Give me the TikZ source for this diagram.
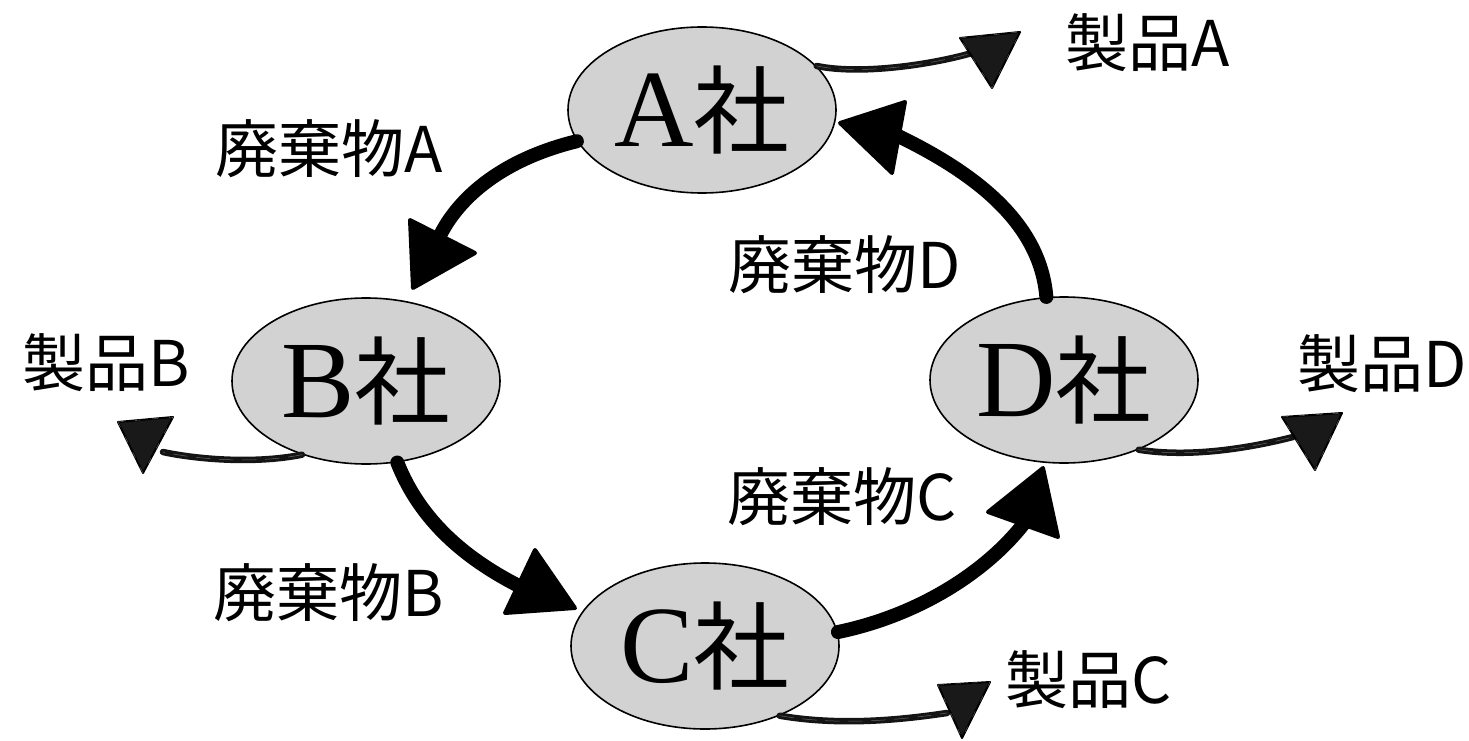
\documentclass[tikz,border=0pt]{standalone}
\usepackage{fontspec}
\newfontfamily\jp{Noto Sans CJK JP}
\newfontfamily\ser{Liberation Serif}
\usetikzlibrary{shapes.geometric}
\begin{document}
\begin{tikzpicture}[x=1pt,y=-1pt,
  firm/.style={ellipse,draw=black,line width=1.6pt,fill=gray!35,minimum width=268pt,minimum height=166pt,inner sep=0pt},
  lbl/.style={anchor=west,inner sep=0pt,font=\jp\fontsize{63}{63}\selectfont},
  flow/.style={line width=14pt,line cap=round},
  head/.style={fill=black,draw=black,line width=4pt,line join=round},
  prod/.style={line width=6.5pt,black!92,line cap=round,postaction={draw,white,line width=0.5pt,dash pattern=on 14pt off 9pt,opacity=.35}},
  phead/.style={fill=black!90,draw=black,line width=2pt,line join=round,postaction={draw,white,line width=0.4pt,dash pattern=on 6pt off 11pt,opacity=.4}}]
\useasboundingbox (0,0) rectangle (1469,741);
\newcommand{\firmtext}[1]{{\fontsize{110}{110}\selectfont\ser #1}{\jp\fontsize{96}{96}\selectfont 社}}
% firms
\node[firm] (A) at (702,110) {\firmtext{A}};
\node[firm] (B) at (366,381) {\firmtext{B}};
\node[firm] (C) at (705,646) {\firmtext{C}};
\node[firm] (D) at (1064,380) {\firmtext{D}};
% labels
\node[lbl] (pA) at (1065,43) {製品A};
\node[lbl] (pB) at (22,363) {製品B};
\node[lbl] (pD) at (1297,364) {製品D};
\node[lbl] (pC) at (1005,680) {製品C};
\node[lbl] (wA) at (215,149) {廃棄物A};
\node[lbl] (wD) at (728,265) {廃棄物D};
\node[lbl] (wC) at (727,497) {廃棄物C};
\node[lbl] (wB) at (213,593) {廃棄物B};
% waste flow end points
\coordinate (eAB) at (437,242);
\coordinate (eBC) at (527,590);
\coordinate (eCD) at (1028,518);
\coordinate (eDA) at (892,133);
\draw[flow] (A.194) .. controls (500,160) and (455,200) .. (eAB);
\draw[flow] (B.291) .. controls (420,520) and (465,560) .. (eBC);
\draw[flow] (C.6) .. controls (920,615) and (990,570) .. (eCD);
\draw[flow] (D.102) .. controls (1040,220) and (970,170) .. (eDA);
\filldraw[head] (410,220) -- (475,253) -- (413,288) -- cycle;
\filldraw[head] (505,613) -- (535,550) -- (575,608) -- cycle;
\filldraw[head] (988,512) -- (1043,468) -- (1058,537) -- cycle;
\filldraw[head] (840,123) -- (905,102) -- (892,173) -- cycle;
% product flow end points
\coordinate (qA) at (972,53);
\coordinate (qB) at (163,452);
\coordinate (qD) at (1293,437);
\coordinate (qC) at (947,713);
\draw[prod] (A.21) .. controls (860,75) and (930,65) .. (qA);
\draw[prod] (B.229) .. controls (250,465) and (190,458) .. (qB);
\draw[prod] (D.317) .. controls (1190,458) and (1250,448) .. (qD);
\draw[prod] (C.317) .. controls (840,726) and (900,720) .. (qC);
\filldraw[phead] (960,38) -- (1020,32) -- (992,88) -- cycle;
\filldraw[phead] (118,422) -- (173,417) -- (143,473) -- cycle;
\filldraw[phead] (1282,417) -- (1342,413) -- (1315,470) -- cycle;
\filldraw[phead] (938,685) -- (990,682) -- (962,738) -- cycle;
\end{tikzpicture}
\end{document}
